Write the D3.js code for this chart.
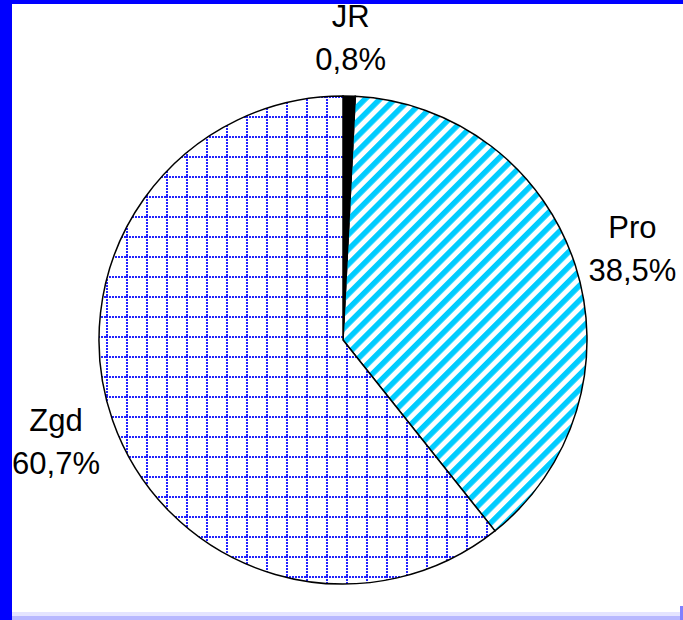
<!DOCTYPE html>
<html>
<head>
<meta charset="utf-8">
<script src="https://cdn.jsdelivr.net/npm/d3@7"></script>
<style>
  body { margin: 0; background: #fff; }
  text { font-family: "Liberation Sans", Arial, sans-serif; }
</style>
</head>
<body>
<div id="chart"></div>
<script>
// slice names and shares (percent), clockwise from 12 o'clock
const labels = ["JR", "Pro", "Zgd"];
const values = [0.8, 38.5, 60.7];
const valueText = ["0,8%", "38,5%", "60,7%"];

const width = 683, height = 620;
const cx = 343, cy = 340, radius = 244;

const svg = d3.select("#chart").append("svg")
  .attr("width", width)
  .attr("height", height);

const defs = svg.append("defs");

// diagonal cyan stripes
defs.append("pattern")
  .attr("id", "stripes")
  .attr("patternUnits", "userSpaceOnUse")
  .attr("width", 10.5).attr("height", 10.5)
  .attr("patternTransform", "rotate(45)")
  .append("rect")
  .attr("width", 5.5).attr("height", 10.5)
  .attr("fill", "#00ccff");

// dotted blue grid
const grid = defs.append("pattern")
  .attr("id", "grid")
  .attr("patternUnits", "userSpaceOnUse")
  .attr("x", 3).attr("y", 16)
  .attr("width", 20).attr("height", 20);
grid.append("rect").attr("width", 20).attr("height", 20).attr("fill", "#fff");
for (let i = 0; i < 20; i += 3) {
  grid.append("rect").attr("x", 0).attr("y", i).attr("width", 2).attr("height", 2).attr("fill", "#2222ff");
  if (i > 0) grid.append("rect").attr("x", i).attr("y", 0).attr("width", 2).attr("height", 2).attr("fill", "#2222ff");
}

const fills = ["#000", "url(#stripes)", "url(#grid)"];

const data = labels.map((d, i) => ({ label: d, value: values[i], text: valueText[i] }));

const pie = d3.pie().sort(null).value(d => d.value);
const arc = d3.arc().innerRadius(0).outerRadius(radius);
const labelArc = d3.arc().innerRadius(304).outerRadius(304);

const g = svg.append("g").attr("transform", `translate(${cx},${cy})`);

g.selectAll("path")
  .data(pie(data))
  .enter()
  .append("path")
  .attr("d", arc)
  .attr("fill", (d, i) => fills[i])
  .attr("stroke", "#000")
  .attr("stroke-width", 1.5);

// labels: name on top, percent under it
const lab = g.selectAll(".lab")
  .data(pie(data))
  .enter()
  .append("text")
  .attr("class", "lab")
  .attr("text-anchor", "middle")
  .attr("font-size", 31)
  .attr("fill", "#000")
  .attr("transform", d => {
    const [x, y] = labelArc.centroid(d);
    return `translate(${x},${y})`;
  });
lab.append("tspan").attr("x", 0).attr("y", -9).text(d => d.data.label);
lab.append("tspan").attr("x", 0).attr("y", 34).text(d => d.data.text);

// window frame
svg.append("rect").attr("x", 0).attr("y", 612).attr("width", width).attr("height", 8).attr("fill", "#e4e4ff");
svg.append("rect").attr("x", 0).attr("y", 616).attr("width", width).attr("height", 4).attr("fill", "#b8b8ff");
svg.append("rect").attr("x", 0).attr("y", 0).attr("width", width).attr("height", 4).attr("fill", "#0000ff");
svg.append("rect").attr("x", 0).attr("y", 0).attr("width", 12).attr("height", height).attr("fill", "#0000ff");
svg.append("rect").attr("x", 680).attr("y", 606).attr("width", 3).attr("height", 14).attr("fill", "#8080ff");
</script>
</body>
</html>
